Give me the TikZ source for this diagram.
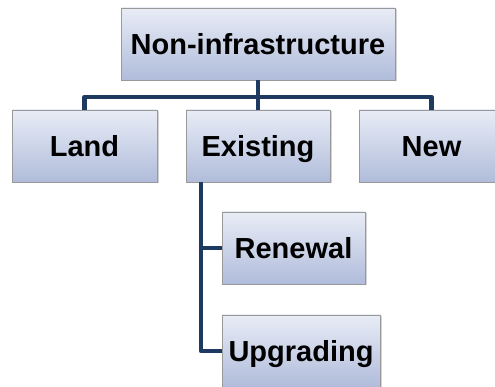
\documentclass[tikz,border=0pt]{standalone}
\usepackage{fontspec}
\setmainfont{Liberation Sans}
\usepackage{xcolor}
\usetikzlibrary{positioning,calc,shadows}
\definecolor{boxtop}{HTML}{E8ECF6}
\definecolor{boxbot}{HTML}{B0BCDA}
\definecolor{linkblue}{HTML}{1F3A60}

\begin{document}
\begin{tikzpicture}[x=1pt,y=1pt,
    box/.style={draw=gray!80, line width=0.8pt, top color=boxtop, bottom color=boxbot,
        minimum height=72pt, text height=27pt, text depth=6pt,
        font=\fontsize{29}{34}\selectfont\bfseries,
        drop shadow={shadow xshift=1.5pt, shadow yshift=-1.5pt, opacity=0.35}},
    link/.style={linkblue, line width=4.5pt, line join=round}]
    \useasboundingbox (0,0) rectangle (495,387);
    % Top
    \node[box, minimum width=274pt] (top) at (258,343) {Non-infrastructure};
    % Middle row
    \node[box, minimum width=145pt] (land) at (84.5,241) {Land};
    \node[box, minimum width=144pt] (exist) at (258,241) {Existing};
    \node[box, minimum width=145pt] (new) at (431.5,241) {New};
    % Under existing
    \node[box, minimum width=143pt] (renewal) at (293.5,139) {Renewal};
    \node[box, minimum width=158pt] (upgrading) at (301,36) {Upgrading};

    % Connectors
    \coordinate (bus) at (258,290);
    \coordinate (trunk) at (exist.south -| 201,0);
    \draw[link] (top.south) -- (bus);
    \draw[link] (land.north) |- (bus) -| (new.north);
    \draw[link] (bus) -- (exist.north);
    \draw[link] (trunk) |- (renewal.west);
    \draw[link] (trunk) |- (upgrading.west);
\end{tikzpicture}
\end{document}
